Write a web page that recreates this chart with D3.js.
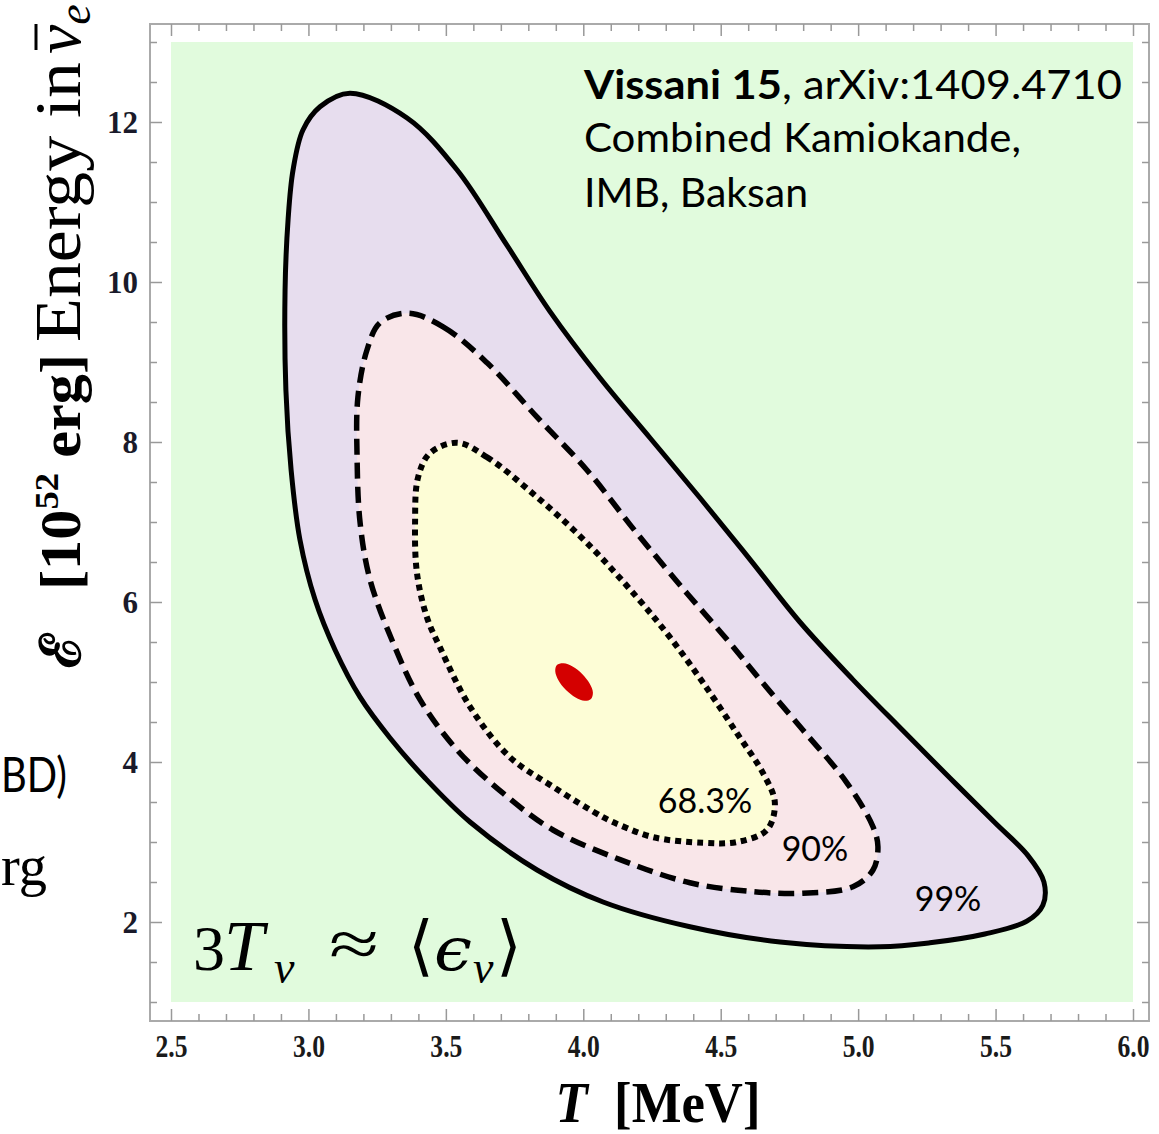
<!DOCTYPE html>
<html>
<head>
<meta charset="utf-8">
<script src="https://cdn.jsdelivr.net/npm/d3@7"></script>
<style>
  body { margin: 0; background: #fff; }
  svg { display: block; }
</style>
</head>
<body>
<div id="chart"></div>
<script>
// contour lines, [T (MeV), E (1e52 erg)]
const c99 = [
  [3.151,12.36],[3.359,12.05],[3.541,11.40],[3.722,10.46],[3.879,9.63],[4.061,8.80],
  [4.243,8.05],[4.425,7.30],[4.607,6.53],[4.788,5.75],[4.981,5.03],[5.152,4.43],
  [5.334,3.80],[5.498,3.24],[5.618,2.83],[5.676,2.50],[5.672,2.21],[5.614,2.01],
  [5.461,1.85],[5.261,1.74],[5.080,1.69],[4.716,1.75],[4.388,1.94],[4.072,2.25],
  [3.832,2.65],[3.588,3.25],[3.424,3.80],[3.297,4.30],[3.188,4.81],[3.097,5.40],
  [3.024,6.03],[2.969,6.78],[2.937,7.65],[2.918,8.65],[2.915,9.90],[2.926,10.78],
  [2.944,11.40],[2.980,11.90],[3.042,12.19]
];
const c90 = [
  [3.362,9.61],[3.490,9.44],[3.650,8.99],[3.832,8.31],[4.013,7.65],[4.195,6.86],
  [4.377,6.11],[4.523,5.53],[4.643,5.03],[4.799,4.40],[4.959,3.74],[5.054,3.19],
  [5.072,2.94],[5.054,2.65],[4.981,2.44],[4.799,2.36],[4.617,2.38],[4.388,2.49],
  [4.134,2.78],[3.890,3.15],[3.708,3.61],[3.541,4.15],[3.406,4.78],[3.308,5.49],
  [3.224,6.28],[3.188,6.99],[3.177,7.81],[3.180,8.56],[3.213,9.15],[3.260,9.49]
];
const c68 = [
  [3.541,7.99],[3.650,7.81],[3.832,7.31],[4.013,6.74],[4.195,6.06],[4.315,5.56],
  [4.436,4.99],[4.559,4.36],[4.654,3.86],[4.697,3.49],[4.668,3.15],[4.559,3.00],
  [4.436,2.99],[4.254,3.06],[4.134,3.21],[4.072,3.31],[3.890,3.69],[3.733,4.06],
  [3.588,4.69],[3.479,5.43],[3.431,5.81],[3.395,6.36],[3.388,6.99],[3.399,7.56],
  [3.442,7.86]
];
const bestFit = [
  [4.028,4.788],[4.035,4.868],[4.023,4.981],[3.996,5.101],[3.961,5.194],[3.928,5.235],
  [3.904,5.213],[3.898,5.133],[3.910,5.018],[3.937,4.899],[3.972,4.806],[4.005,4.765]
];
const contourLabels = [["68.3%",4.443,3.36],["90%",4.843,2.76],["99%",5.327,2.14]];

const xMajor = [2.5,3.0,3.5,4.0,4.5,5.0,5.5,6.0];
const xMinor = d3.range(25,61).map(d => d/10).filter(v => !xMajor.includes(v));
const yMajor = [2,4,6,8,10,12];
const yMinor = d3.range(2,27).map(d => d/2).filter(v => !yMajor.includes(v));

const W = 1159, H = 1134;
const frame = {x0:150, y0:24, x1:1149, y1:1021};

let svg = d3.select('#chart').append('svg').attr('width',W).attr('height',H);
let x = d3.scaleLinear().domain([2.5,6.0]).range([171,1133]);
let y = d3.scaleLinear().domain([1,13]).range([1002,42]);

// frame + plot background
svg.append('rect').attr('x',frame.x0).attr('y',frame.y0)
  .attr('width',frame.x1-frame.x0).attr('height',frame.y1-frame.y0)
  .attr('fill','#fff').attr('stroke','#aaa').attr('stroke-width',2);
svg.append('rect').attr('x',x(2.5)).attr('y',y(13))
  .attr('width',x(6)-x(2.5)).attr('height',y(1)-y(13)).attr('fill','#e1fbdd');

let line = d3.line().x(d => x(d[0])).y(d => y(d[1])).curve(d3.curveCatmullRomClosed.alpha(0.5));

svg.append('path').attr('d',line(c99)).attr('fill','#e7ddee')
  .attr('stroke','#000').attr('stroke-width',5).attr('stroke-linejoin','round');
svg.append('path').attr('d',line(c90)).attr('fill','#f9e6e9')
  .attr('stroke','#000').attr('stroke-width',5.5).attr('stroke-dasharray','16,8');
svg.append('path').attr('d',line(c68)).attr('fill','#fdfdd6')
  .attr('stroke','#000').attr('stroke-width',6).attr('stroke-dasharray','6,5');
svg.append('path').attr('d',line(bestFit)).attr('fill','#d40000');

svg.selectAll('text.clab').data(contourLabels).enter().append('text')
  .attr('class','clab')
  .attr('x',d => x(d[1])).attr('y',d => y(d[2]))
  .attr('text-anchor','middle')
  .style('font-family','Lato, "Open Sans", sans-serif').style('font-size','34px')
  .text(d => d[0]);

// ticks on all four sides, pointing inward
function ticks(axis, scale, vals, size, tx, ty, labels) {
  let g = svg.append('g').attr('transform','translate('+tx+','+ty+')')
    .call(axis(scale).tickValues(vals).tickSize(-size).tickPadding(labels ? 12 : 0)
      .tickFormat(labels ? labels : ''));
  g.select('.domain').remove();
  g.selectAll('.tick line').attr('stroke','#999').attr('stroke-width',1.5);
  return g;
}
let gx = ticks(d3.axisBottom, x, xMajor, 12, 0, frame.y1, d3.format('.1f'));
ticks(d3.axisBottom, x, xMinor, 7, 0, frame.y1);
ticks(d3.axisTop, x, xMajor, 12, 0, frame.y0);
ticks(d3.axisTop, x, xMinor, 7, 0, frame.y0);
let gy = ticks(d3.axisLeft, y, yMajor, 12, frame.x0, 0, d3.format('d'));
ticks(d3.axisLeft, y, yMinor, 7, frame.x0, 0);
ticks(d3.axisRight, y, yMajor, 12, frame.x1, 0);
ticks(d3.axisRight, y, yMinor, 7, frame.x1, 0);

gx.selectAll('.tick text').attr('fill','#1a1a1a').attr('y',13)
  .style('font-family','"Liberation Serif", serif').style('font-weight','bold').style('font-size','32px')
  .attr('textLength',32).attr('lengthAdjust','spacingAndGlyphs');
gy.selectAll('.tick text').attr('fill','#1a1a2a').attr('dy','0.35em')
  .style('font-family','"Liberation Serif", serif').style('font-weight','bold').style('font-size','31px');

// x label
let xl = svg.append('text').attr('x',658).attr('y',1122).attr('text-anchor','middle')
  .style('font-family','"Liberation Serif", serif').style('font-weight','bold').style('font-size','56px')
  .attr('textLength',205).attr('lengthAdjust','spacingAndGlyphs');
xl.append('tspan').style('font-style','italic').text('T');
xl.append('tspan').text('\u2002[MeV]');

// y label (rotated)
let yl = svg.append('g').attr('transform','translate(80,668) rotate(-90)');
yl.append('text').attr('x',0).attr('y',0)
  .style('font-family','"DejaVu Serif", serif').style('font-weight','bold').style('font-size','56px')
  .text('\u2130');
let yt1 = yl.append('text').attr('x',78).attr('y',0)
  .style('font-family','"Liberation Serif", serif').style('font-weight','bold').style('font-size','56px')
  .attr('textLength',236).attr('lengthAdjust','spacingAndGlyphs');
yt1.append('tspan').text('[10');
yt1.append('tspan').style('font-size','34px').attr('dy',-22).text('52');
yt1.append('tspan').attr('dy',22).text(' erg]');
yl.append('text').attr('x',326).attr('y',0)
  .style('font-family','"Liberation Serif", serif').style('font-size','66px')
  .attr('textLength',280).attr('lengthAdjust','spacingAndGlyphs')
  .text('Energy in');
let nu = yl.append('text').attr('x',614).attr('y',0)
  .style('font-family','"Liberation Serif", serif').style('font-style','italic').style('font-size','66px');
nu.append('tspan').text('\u03BD');
nu.append('tspan').style('font-size','46px').attr('dy',10).text('e');
yl.append('line').attr('x1',618).attr('x2',644).attr('y1',-44).attr('y2',-44)
  .attr('stroke','#000').attr('stroke-width',3);

// annotation, top right
let ann = svg.append('g').style('font-family','Lato, "Open Sans", sans-serif').style('font-size','41px').attr('fill','#000');
let a1 = ann.append('text').attr('x',584).attr('y',99).attr('textLength',538).attr('lengthAdjust','spacingAndGlyphs');
a1.append('tspan').style('font-weight','bold').text('Vissani 15');
a1.append('tspan').text(', arXiv:1409.4710');
ann.append('text').attr('x',584).attr('y',152).attr('textLength',437).attr('lengthAdjust','spacingAndGlyphs')
  .text('Combined Kamiokande,');
ann.append('text').attr('x',584).attr('y',207).attr('textLength',224).attr('lengthAdjust','spacingAndGlyphs')
  .text('IMB, Baksan');

// formula, bottom left: 3T_nu ~ <eps_nu>
let fm = svg.append('g').style('font-family','"Liberation Serif", "DejaVu Serif", serif');
fm.append('text').attr('x',193).attr('y',970).style('font-size','64px').text('3');
fm.append('text').attr('x',224).attr('y',970).style('font-size','72px').style('font-style','italic').text('T');
fm.append('text').attr('x',274).attr('y',983).style('font-size','46px').style('font-style','italic').text('\u03BD');
fm.append('text').attr('x',329).attr('y',966).style('font-size','66px')
  .attr('textLength',50).attr('lengthAdjust','spacingAndGlyphs').text('\u2248');
fm.append('text').attr('x',408).attr('y',968).style('font-family','"DejaVu Sans", sans-serif')
  .style('font-weight','200').style('font-size','66px').text('\u27E8');
fm.append('text').attr('x',434).attr('y',970).style('font-family','"DejaVu Serif", serif')
  .style('font-style','italic').style('font-size','60px').attr('textLength',38).attr('lengthAdjust','spacingAndGlyphs')
  .text('\u03F5');
fm.append('text').attr('x',473).attr('y',983).style('font-size','46px').style('font-style','italic').text('\u03BD');
fm.append('text').attr('x',496).attr('y',968).style('font-family','"DejaVu Sans", sans-serif')
  .style('font-weight','200').style('font-size','66px').text('\u27E9');

// fragments of slide text at the left edge
svg.append('text').attr('x',1).attr('y',792).attr('textLength',66).attr('lengthAdjust','spacingAndGlyphs')
  .style('font-family','Lato, "Open Sans", sans-serif').style('font-size','48px').text('BD)');
svg.append('text').attr('x',1).attr('y',885).attr('textLength',46).attr('lengthAdjust','spacingAndGlyphs')
  .style('font-family','"Liberation Serif", serif').style('font-size','56px').text('rg');
</script>
</body>
</html>
